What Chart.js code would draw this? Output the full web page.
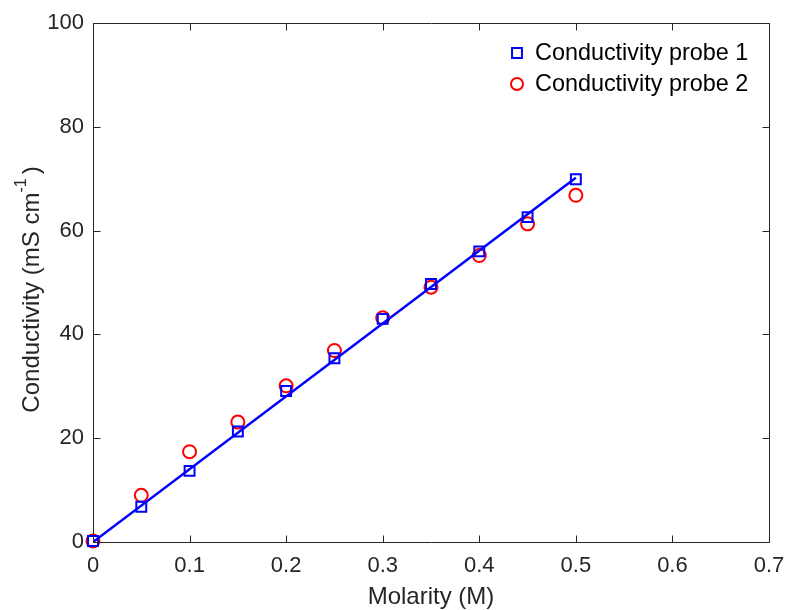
<!DOCTYPE html>
<html>
<head>
<meta charset="utf-8">
<script src="https://cdn.jsdelivr.net/npm/chart.js@4/dist/chart.umd.min.js"></script>
<style>
html, body { margin: 0; padding: 0; background: #fff; }
#wrap { width: 789px; height: 610px; }
</style>
</head>
<body>
<div id="wrap"><canvas id="chart" width="789" height="610"></canvas></div>
<script>
// values
var molarity = [0, 0.05, 0.1, 0.15, 0.2, 0.25, 0.3, 0.35, 0.4, 0.45, 0.5];
var probe1 = [0.2, 6.8, 13.7, 21.3, 29.1, 35.4, 43.0, 49.7, 56.0, 62.6, 69.9];
var probe2 = [0.2, 9.0, 17.4, 23.1, 30.1, 36.9, 43.2, 49.1, 55.2, 61.3, 66.8];
var fitX = [0, 0.5];
var fitY = [0, 70.2];

var xTicks = [0, 0.1, 0.2, 0.3, 0.4, 0.5, 0.6, 0.7];
var xTickLabels = ['0', '0.1', '0.2', '0.3', '0.4', '0.5', '0.6', '0.7'];
var yTicks = [0, 20, 40, 60, 80, 100];
var yTickLabels = ['0', '20', '40', '60', '80', '100'];

var seriesNames = ['Conductivity probe 1', 'Conductivity probe 2'];
var xTitle = 'Molarity (M)';
var yTitle = 'Conductivity (mS cm';
var yTitleSup = '-1';

var FONT = '"Liberation Sans", Arial, Helvetica, sans-serif';
var AXIS = '#262626';

function points(xs, ys) {
    var out = [];
    for (var i = 0; i < xs.length; i++) {
        out.push({x: xs[i], y: ys[i]});
    }
    return out;
}

// box, inward ticks, titles and legend, MATLAB style
var matlabAxes = {
    id: 'matlabAxes',
    afterDraw: function(chart) {
        var ctx = chart.ctx;
        var a = chart.chartArea;
        var xs = chart.scales.x, ys = chart.scales.y;
        var L = Math.round(a.left) + 0.5, R = Math.round(a.right) + 0.5;
        var T = Math.round(a.top) + 0.5, B = Math.round(a.bottom) + 0.5;
        var tl = 7;

        ctx.save();
        ctx.strokeStyle = AXIS;
        ctx.lineWidth = 1;
        ctx.beginPath();
        ctx.rect(L, T, R - L, B - T);
        for (var i = 0; i < xTicks.length; i++) {
            var px = Math.round(xs.getPixelForValue(xTicks[i])) + 0.5;
            ctx.moveTo(px, B); ctx.lineTo(px, B - tl);
            ctx.moveTo(px, T); ctx.lineTo(px, T + tl);
        }
        for (var j = 0; j < yTicks.length; j++) {
            var py = Math.round(ys.getPixelForValue(yTicks[j])) + 0.5;
            ctx.moveTo(L, py); ctx.lineTo(L + tl, py);
            ctx.moveTo(R, py); ctx.lineTo(R - tl, py);
        }
        ctx.stroke();

        // x title
        ctx.fillStyle = AXIS;
        ctx.font = '24px ' + FONT;
        ctx.textAlign = 'center';
        ctx.textBaseline = 'middle';
        ctx.fillText(xTitle, (a.left + a.right) / 2, 597);

        // y title with superscript
        ctx.font = '24px ' + FONT;
        var w1 = ctx.measureText(yTitle).width;
        var w3 = ctx.measureText(')').width;
        ctx.font = '16px ' + FONT;
        var w2 = ctx.measureText(yTitleSup).width;
        var gap = 4;
        var total = w1 + w2 + gap + w3;
        ctx.translate(32, (a.top + a.bottom) / 2 + 7);
        ctx.rotate(-Math.PI / 2);
        ctx.textAlign = 'left';
        ctx.textBaseline = 'middle';
        var sx = -total / 2;
        ctx.font = '24px ' + FONT;
        ctx.fillText(yTitle, sx, 0);
        ctx.font = '16px ' + FONT;
        ctx.fillText(yTitleSup, sx + w1, -10);
        ctx.font = '24px ' + FONT;
        ctx.fillText(')', sx + w1 + w2 + gap, 0);
        ctx.restore();

        // legend
        ctx.save();
        var lx = a.right - 252, ly = a.top + 30;
        var ds = [chart.data.datasets[1], chart.data.datasets[2]];
        for (var k = 0; k < ds.length; k++) {
            var y = ly + k * 31;
            ctx.strokeStyle = ds[k].borderColor;
            ctx.fillStyle = 'rgba(0,0,0,0)';
            ctx.lineWidth = 2;
            Chart.helpers.drawPoint(ctx, {
                pointStyle: ds[k].pointStyle,
                radius: ds[k].pointStyle === 'rect' ? 7 : 6,
                borderWidth: 2
            }, lx, y);
            ctx.fillStyle = '#000';
            ctx.font = '23.4px ' + FONT;
            ctx.textAlign = 'left';
            ctx.textBaseline = 'middle';
            ctx.fillText(ds[k].label, lx + 18, y + 1);
        }
        ctx.restore();
    }
};

var ctx = document.getElementById('chart').getContext('2d');
var chart = new Chart(ctx, {
    type: 'scatter',
    data: {
        datasets: [{
            label: 'fit',
            data: points(fitX, fitY),
            showLine: true,
            borderColor: '#0000ff',
            borderWidth: 2.5,
            pointRadius: 0,
            fill: false
        }, {
            label: seriesNames[0],
            data: points(molarity, probe1),
            pointStyle: 'rect',
            pointRadius: 7,
            borderColor: '#0000ff',
            backgroundColor: 'rgba(0,0,0,0)',
            borderWidth: 2,
            clip: false
        }, {
            label: seriesNames[1],
            data: points(molarity, probe2),
            pointStyle: 'circle',
            pointRadius: 6.5,
            borderColor: '#ff0000',
            backgroundColor: 'rgba(0,0,0,0)',
            borderWidth: 2,
            clip: false
        }]
    },
    options: {
        responsive: false,
        animation: false,
        devicePixelRatio: 1,
        layout: {padding: {top: 23, right: 20, left: 0, bottom: 0}},
        plugins: {legend: {display: false}, tooltip: {enabled: false}},
        scales: {
            x: {
                type: 'linear',
                min: 0, max: 0.7,
                afterBuildTicks: function(s) { s.ticks = xTicks.map(function(v) { return {value: v}; }); },
                afterFit: function(s) { s.height = 68; s.paddingLeft = 0; s.paddingRight = 0; },
                ticks: {
                    padding: 11,
                    color: AXIS,
                    font: {family: FONT, size: 22},
                    maxRotation: 0,
                    autoSkip: false,
                    callback: function(v, i) { return xTickLabels[i]; }
                },
                grid: {display: false, drawTicks: false},
                border: {display: false}
            },
            y: {
                type: 'linear',
                min: 0, max: 100,
                afterBuildTicks: function(s) { s.ticks = yTicks.map(function(v) { return {value: v}; }); },
                afterFit: function(s) { s.width = 93; s.paddingTop = 0; s.paddingBottom = 0; },
                ticks: {
                    padding: 9,
                    color: AXIS,
                    font: {family: FONT, size: 22},
                    autoSkip: false,
                    callback: function(v, i) { return yTickLabels[i]; }
                },
                grid: {display: false, drawTicks: false},
                border: {display: false}
            }
        }
    },
    plugins: [matlabAxes]
});
</script>
</body>
</html>
